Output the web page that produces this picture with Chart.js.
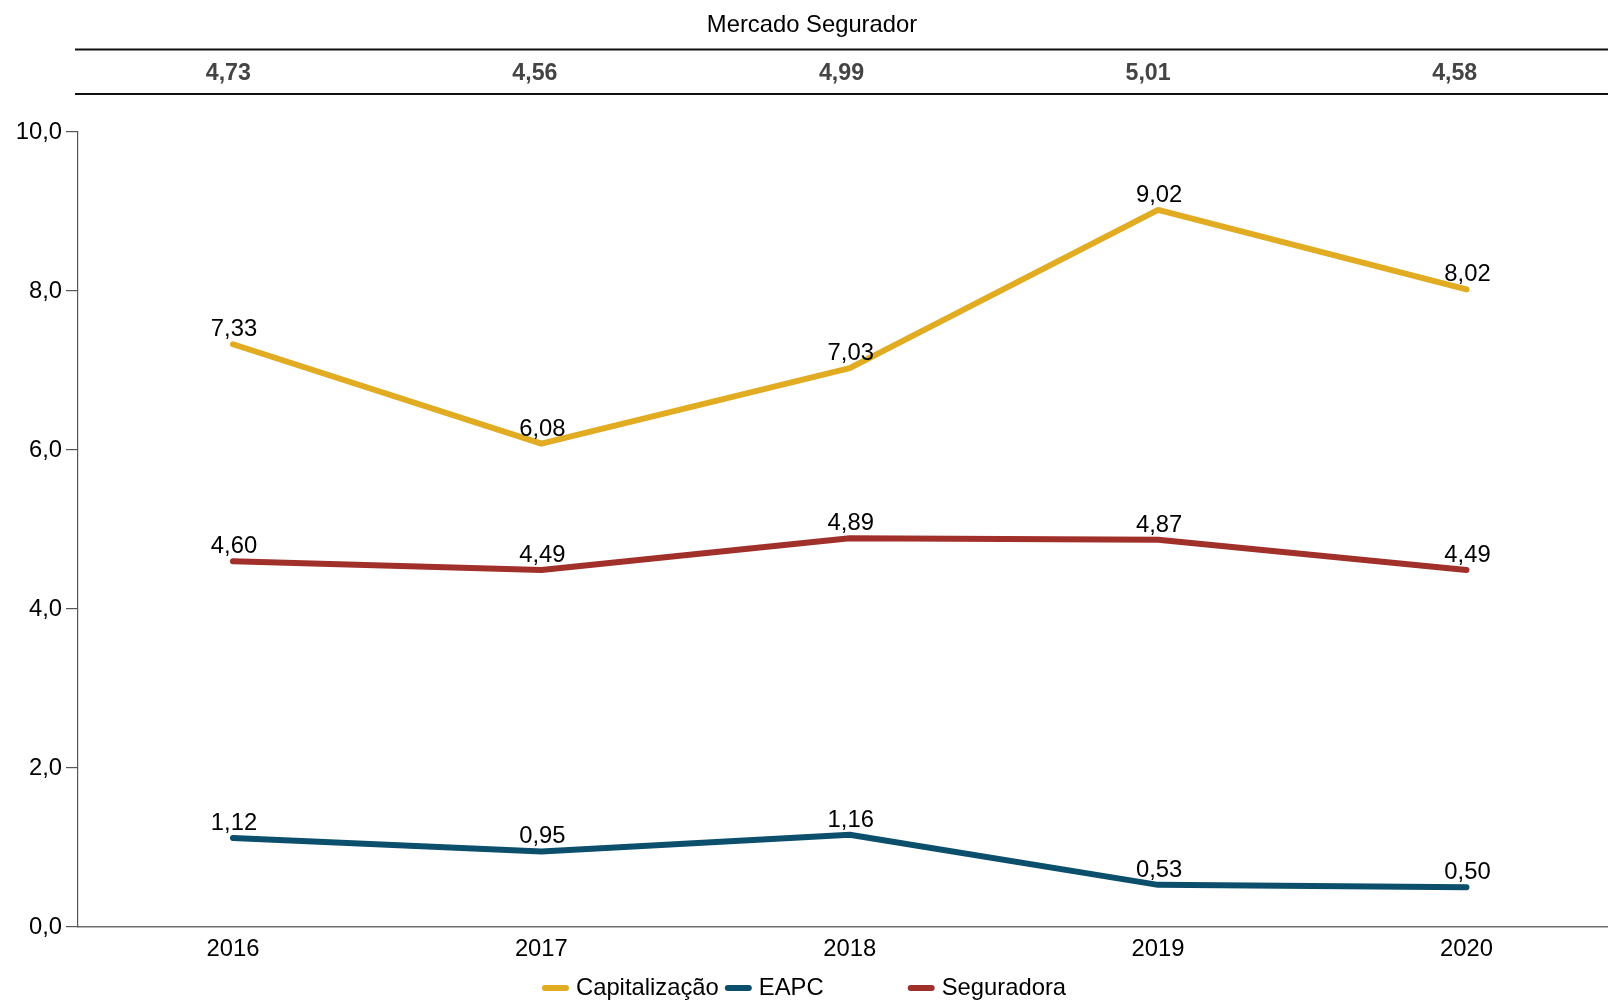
<!DOCTYPE html>
<html><head><meta charset="utf-8">
<script src="https://cdn.jsdelivr.net/npm/chart.js@4.4.1/dist/chart.umd.min.js"></script>
<style>html,body{margin:0;padding:0;background:#fff;overflow:hidden}#wrap{width:1608px;height:1000px;position:relative}</style>
</head><body><div id="wrap"><canvas id="c"></canvas></div>
<script>
const years = ['2016', '2017', '2018', '2019', '2020'];
const capitalizacao = [7.33, 6.08, 7.03, 9.02, 8.02];
const eapc = [1.12, 0.95, 1.16, 0.53, 0.50];
const seguradora = [4.60, 4.49, 4.89, 4.87, 4.49];
const mercadoSegurador = [4.73, 4.56, 4.99, 5.01, 4.58];
const headerTitle = 'Mercado Segurador';
const seriesNames = ['Capitalização', 'EAPC', 'Seguradora'];
const yTicks = [0, 2, 4, 6, 8, 10];

const colors = ['#E1AB22', '#0B4F6C', '#A2302A'];
const FONT = '"Liberation Sans", Arial, sans-serif';
const fmt = (v, d) => v.toFixed(d).replace('.', ',');
const seriesValues = [capitalizacao, eapc, seguradora];

const headerPlugin = {
  id: 'header',
  afterDraw(chart) {
    const ctx = chart.ctx;
    const left = 75, right = chart.width;
    ctx.save();
    ctx.strokeStyle = '#111';
    ctx.lineWidth = 2;
    [49.5, 94].forEach(y => { ctx.beginPath(); ctx.moveTo(left, y); ctx.lineTo(right, y); ctx.stroke(); });
    ctx.fillStyle = '#000';
    ctx.font = `23.8px ${FONT}`;
    ctx.textAlign = 'center';
    ctx.textBaseline = 'middle';
    ctx.fillText(headerTitle, chart.width / 2 + 8, 25);
    ctx.font = `bold 23.2px ${FONT}`;
    ctx.fillStyle = '#444';
    const colW = (right - left) / mercadoSegurador.length;
    mercadoSegurador.forEach((v, i) => ctx.fillText(fmt(v, 2), left + colW * (i + 0.5), 73.5));
    ctx.restore();
  }
};

const valueLabels = {
  id: 'valueLabels',
  afterDatasetsDraw(chart) {
    const ctx = chart.ctx;
    ctx.save();
    ctx.font = `23.8px ${FONT}`;
    ctx.fillStyle = '#000';
    ctx.textAlign = 'center';
    ctx.textBaseline = 'alphabetic';
    chart.data.datasets.forEach((ds, di) => {
      chart.getDatasetMeta(di).data.forEach((pt, i) => {
        ctx.fillText(fmt(ds.data[i].y, 2), pt.x + 1, pt.y - 8);
      });
    });
    ctx.restore();
  }
};

const customLegend = {
  id: 'customLegend',
  afterDraw(chart) {
    const ctx = chart.ctx;
    ctx.save();
    ctx.font = `23.8px ${FONT}`;
    const sw = 27, gap = 7, pad = 6;
    const widths = seriesNames.map(n => sw + gap + ctx.measureText(n).width);
    const col = Math.max(...widths) + pad;
    const total = col * (seriesNames.length - 1) + widths[widths.length - 1];
    let x0 = (chart.width - total) / 2;
    const y = 988;
    seriesNames.forEach((n, i) => {
      const x = x0 + col * i;
      ctx.strokeStyle = colors[i];
      ctx.lineWidth = 6;
      ctx.lineCap = 'round';
      ctx.beginPath(); ctx.moveTo(x + 3, y); ctx.lineTo(x + sw - 3, y); ctx.stroke();
      ctx.fillStyle = '#000';
      ctx.textAlign = 'left';
      ctx.textBaseline = 'middle';
      ctx.fillText(n, x + sw + gap, y);
    });
    ctx.restore();
  }
};

new Chart(document.getElementById('c'), {
  type: 'line',
  data: {
    datasets: seriesNames.map((name, k) => ({
      label: name,
      data: seriesValues[k].map((v, i) => ({ x: i, y: v })),
      borderColor: colors[k],
      backgroundColor: colors[k],
      borderWidth: 6,
      borderCapStyle: 'round',
      borderJoinStyle: 'round',
      pointRadius: 0,
      tension: 0,
      fill: false
    }))
  },
  options: {
    responsive: true,
    maintainAspectRatio: false,
    animation: false,
    layout: { padding: { top: 132, bottom: 38, left: 0, right: 0 } },
    plugins: { legend: { display: false }, tooltip: { enabled: false } },
    scales: {
      x: {
        type: 'linear',
        min: -0.5026,
        max: 4.459,
        afterBuildTicks: s => { s.ticks = years.map((_, i) => ({ value: i })); },
        afterFit: s => { s.height = 35; },
        grid: { display: false, drawTicks: false },
        border: { display: true, color: '#6e6e6e', width: 1.5 },
        ticks: { callback: v => years[v], color: '#000', font: { family: FONT, size: 23.8 }, padding: 8, maxRotation: 0, autoSkip: false }
      },
      y: {
        min: 0,
        max: 10,
        afterBuildTicks: s => { s.ticks = yTicks.map(v => ({ value: v })); },
        afterFit: s => { s.width = 78; },
        grid: { drawOnChartArea: false, drawTicks: true, tickLength: 12, color: '#555', lineWidth: 1.2 },
        border: { display: true, color: '#555', width: 1.2 },
        ticks: { callback: v => fmt(v, 1), color: '#000', font: { family: FONT, size: 23.8 }, padding: 4 }
      }
    }
  },
  plugins: [headerPlugin, valueLabels, customLegend]
});
</script>
</body></html>
